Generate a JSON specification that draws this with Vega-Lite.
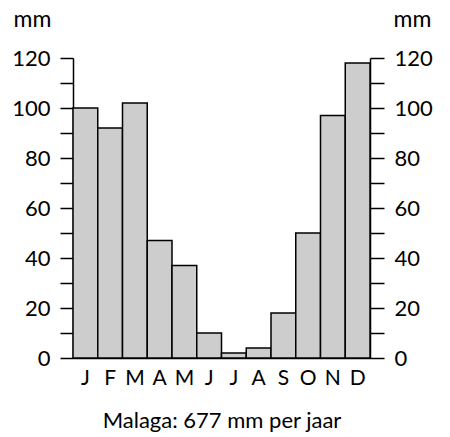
{
  "$schema": "https://vega.github.io/schema/vega-lite/v6.json",
  "autosize": {"type": "none"},
  "padding": {"left": 73, "top": 58, "right": 80, "bottom": 79},
  "width": 297,
  "height": 300,
  "background": "white",
  "config": {
    "view": {"stroke": null},
    "font": "Lato",
    "axis": {"labelFont": "Lato", "titleFont": "Lato", "labelColor": "black", "titleColor": "black", "domainColor": "black", "tickColor": "black", "grid": false}
  },
  "data": {
    "values": [
      {"maand": "jan", "mm": 100},
      {"maand": "feb", "mm": 92},
      {"maand": "mrt", "mm": 102},
      {"maand": "apr", "mm": 47},
      {"maand": "mei", "mm": 37},
      {"maand": "jun", "mm": 10},
      {"maand": "jul", "mm": 2},
      {"maand": "aug", "mm": 4},
      {"maand": "sep", "mm": 18},
      {"maand": "okt", "mm": 50},
      {"maand": "nov", "mm": 97},
      {"maand": "dec", "mm": 118}
    ]
  },
  "encoding": {
    "x": {
      "field": "maand",
      "type": "nominal",
      "sort": null,
      "scale": {"paddingInner": 0, "paddingOuter": 0},
      "axis": {
        "title": "Malaga: 677 mm per jaar",
        "titleFontSize": 22,
        "titleFontWeight": "normal",
        "titlePadding": 22,
        "labelAngle": 0,
        "labelFontSize": 21,
        "labelPadding": 9,
        "labelExpr": "upper(substring(datum.value, 0, 1))",
        "ticks": false,
        "domainWidth": 1.5
      }
    }
  },
  "layer": [
    {
      "mark": {"type": "bar", "fill": "#cdcdcd", "stroke": "black", "strokeWidth": 1.5},
      "encoding": {
        "y": {
          "field": "mm",
          "type": "quantitative",
          "scale": {"domain": [0, 120], "nice": false},
          "axis": {
            "orient": "left",
            "values": [0, 10, 20, 30, 40, 50, 60, 70, 80, 90, 100, 110, 120],
            "labelExpr": "datum.value % 20 === 0 ? datum.label : ''",
            "labelFontSize": 22,
            "labelPadding": 10,
            "tickSize": 13,
            "tickWidth": 1.5,
            "domainWidth": 1.5,
            "encode": {"ticks": {"update": {"x2": {"signal": "datum.value % 20 === 0 ? -13 : -8"}}}},
            "title": "mm",
            "titleAngle": 0,
            "titleFontSize": 23,
            "titleFontWeight": "normal",
            "titleAlign": "left",
            "titleBaseline": "alphabetic",
            "titleX": -60,
            "titleY": -32
          }
        }
      }
    },
    {
      "mark": {"type": "bar", "opacity": 0},
      "encoding": {
        "y": {
          "field": "mm",
          "type": "quantitative",
          "scale": {"domain": [0, 120], "nice": false},
          "axis": {
            "orient": "right",
            "values": [0, 10, 20, 30, 40, 50, 60, 70, 80, 90, 100, 110, 120],
            "labelExpr": "datum.value % 20 === 0 ? datum.label : ''",
            "labelFontSize": 22,
            "labelPadding": 10,
            "tickSize": 14,
            "tickWidth": 1.5,
            "domainWidth": 1.5,
            "encode": {"ticks": {"update": {"x2": {"signal": "datum.value % 20 === 0 ? 14 : 8"}}}},
            "title": "mm",
            "titleAngle": 0,
            "titleFontSize": 23,
            "titleFontWeight": "normal",
            "titleAlign": "left",
            "titleBaseline": "alphabetic",
            "titleX": 23,
            "titleY": -32
          }
        }
      }
    }
  ],
  "resolve": {"axis": {"y": "independent"}}
}
